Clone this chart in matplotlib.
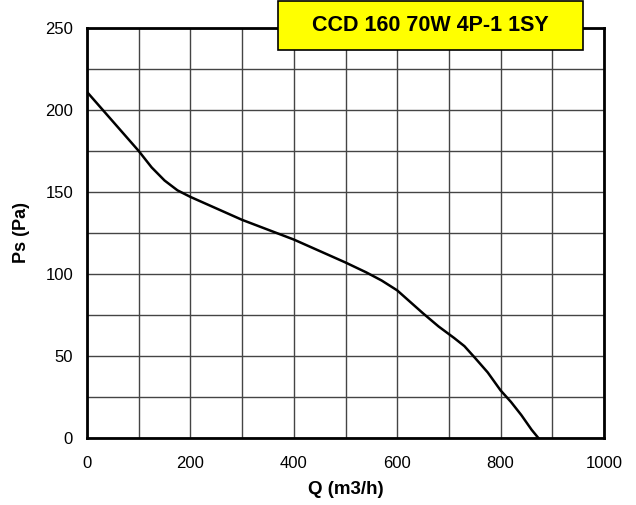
import matplotlib
matplotlib.use("Agg")
import matplotlib.pyplot as plt
from matplotlib.patches import Rectangle
import numpy as np

plt.rcParams['font.family'] = ['Liberation Sans', 'DejaVu Sans']

q = [0, 25, 50, 75, 100, 125, 150, 175, 200, 250, 300, 350, 400, 450, 500,
     540, 570, 600, 625, 650, 680, 710, 730, 750, 775, 800, 820, 840, 860, 873]
ps = [211, 202, 193, 184, 175, 165, 157, 151, 147, 140, 133, 127, 121, 114, 107,
      101, 96, 90, 83, 76, 68, 61, 56, 49, 40, 29, 22, 14, 5, 0]
title = "CCD 160 70W 4P-1 1SY"
xticks = [0, 200, 400, 600, 800, 1000]
yticks = [0, 50, 100, 150, 200, 250]

fig = plt.figure(figsize=(6.36, 5.05), dpi=100)
ax = fig.add_axes([0.1368, 0.1327, 0.8129, 0.8119])
ax.set_xlim(0, 1000)
ax.set_ylim(0, 250)
ax.set_xticks(xticks)
ax.set_xticks(np.arange(0, 1001, 100), minor=True)
ax.set_yticks(yticks)
ax.set_yticks(np.arange(0, 251, 25), minor=True)
ax.grid(True, which='both', color='#444444', linewidth=1.0)
ax.tick_params(which='both', length=0, labelsize=12)
ax.tick_params(axis='x', pad=13)
ax.tick_params(axis='y', pad=10)
for s in ax.spines.values():
    s.set_linewidth(2.0)
    s.set_color('black')
ax.plot(q, ps, color='black', linewidth=1.8, zorder=3, solid_joinstyle='round')
ax.set_xlabel("Q (m3/h)", fontsize=13.5, fontweight='bold', labelpad=7)
ax.set_ylabel("Ps (Pa)", fontsize=13, fontweight='bold', labelpad=11)

bx0, by0, bw, bh = 278/636, 1 - 50/505, 305/636, 49/505
fig.patches.append(Rectangle((bx0, by0), bw, bh, transform=fig.transFigure,
                             facecolor='#ffff00', edgecolor='black', linewidth=1.2, zorder=5))
fig.text(bx0 + bw/2, by0 + bh/2, title, ha='center', va='center',
         fontsize=15.5, fontweight='bold', zorder=6)

fig.savefig("out.png", dpi=100)
